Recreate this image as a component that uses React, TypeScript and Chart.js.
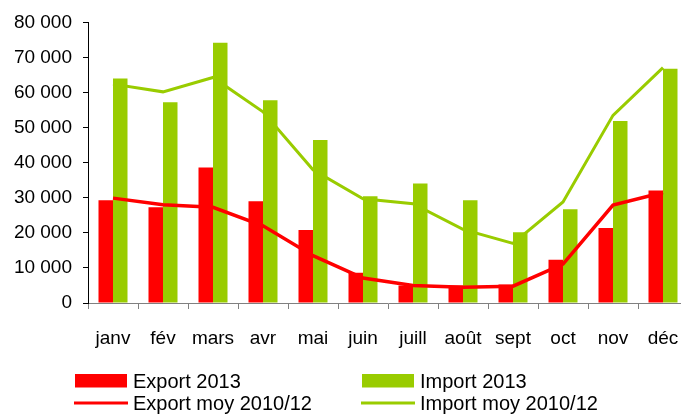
import React, { useEffect, useRef } from "react";
import { Chart, registerables } from "chart.js";

Chart.register(...registerables);

const categories = ["janv", "fév", "mars", "avr", "mai", "juin", "juill", "août", "sept", "oct", "nov", "déc"];
const export2013 = [29300, 27300, 38600, 29000, 20800, 8600, 5000, 5000, 5300, 12300, 21400, 32100];
const import2013 = [64000, 57200, 74200, 57800, 46500, 30400, 34100, 29300, 20200, 26700, 51900, 66800];
const exportMoy = [29900, 28000, 27300, 22000, 13500, 7100, 5000, 4500, 4800, 11100, 27900, 31500];
const importMoy = [62400, 60200, 64300, 54500, 38000, 29700, 28300, 21000, 17000, 28800, 53500, 67100];
const yTicks = [0, 10000, 20000, 30000, 40000, 50000, 60000, 70000, 80000];

const RED = "#ff0000";
const GREEN = "#99cc00";
const FONT = "'Liberation Sans', Arial, sans-serif";

const legendItems = [
  { label: "Export 2013", color: RED, kind: "box", col: 0, row: 0 },
  { label: "Import 2013", color: GREEN, kind: "box", col: 1, row: 0 },
  { label: "Export moy 2010/12", color: RED, kind: "line", col: 0, row: 1 },
  { label: "Import moy 2010/12", color: GREEN, kind: "line", col: 1, row: 1 },
];

const fmt = (v: number) => String(v).replace(/\B(?=(\d{3})+(?!\d))/g, " ");

const legendPlugin = {
  id: "customLegend",
  afterDraw(chart: any) {
    const ctx = chart.ctx as CanvasRenderingContext2D;
    const colX = [74, 361];
    const rowY = [380.5, 403];
    ctx.save();
    ctx.font = `20px ${FONT}`;
    ctx.textBaseline = "alphabetic";
    ctx.fillStyle = "#000";
    legendItems.forEach((it) => {
      const x = colX[it.col];
      const y = rowY[it.row];
      if (it.kind === "box") {
        ctx.fillStyle = it.color;
        ctx.fillRect(x + 1, y - 6.5, 52, 13.5);
      } else {
        ctx.strokeStyle = it.color;
        ctx.lineWidth = 3;
        ctx.beginPath();
        ctx.moveTo(x, y);
        ctx.lineTo(x + 54, y);
        ctx.stroke();
      }
      ctx.fillStyle = "#000";
      ctx.fillText(it.label, x + 59, y + 7);
    });
    ctx.restore();
  },
};

export default function App() {
  const ref = useRef<HTMLCanvasElement | null>(null);
  useEffect(() => {
    if (!ref.current) return;
    const chart = new Chart(ref.current, {
      type: "bar",
      data: {
        labels: categories,
        datasets: [
          { type: "line", label: "Export moy 2010/12", data: exportMoy, borderColor: RED, borderWidth: 3.5, pointRadius: 0, tension: 0, order: 0 },
          { type: "line", label: "Import moy 2010/12", data: importMoy, borderColor: GREEN, borderWidth: 3, pointRadius: 0, tension: 0, order: 0 },
          { type: "bar", label: "Export 2013", data: export2013, backgroundColor: RED, order: 1, categoryPercentage: 0.58, barPercentage: 1 },
          { type: "bar", label: "Import 2013", data: import2013, backgroundColor: GREEN, order: 1, categoryPercentage: 0.58, barPercentage: 1 },
        ] as any,
      },
      options: {
        responsive: false,
        animation: false,
        devicePixelRatio: 1,
        layout: { padding: { left: 0, right: 12, top: 19, bottom: 62 } },
        plugins: { legend: { display: false }, tooltip: { enabled: false } },
        scales: {
          x: {
            offset: true,
            grid: { display: true, drawOnChartArea: false, drawTicks: true, tickLength: 6, color: "#808080", offset: true },
            border: { display: true, color: "#808080", width: 1 },
            ticks: { color: "#000", font: { family: FONT, size: 19 }, padding: 18, maxRotation: 0, autoSkip: false },
            afterFit: (s: any) => { s.height = 50; },
          },
          y: {
            min: 0,
            max: 80000,
            afterBuildTicks: (s: any) => { s.ticks = yTicks.map((v) => ({ value: v })); },
            grid: { display: true, drawOnChartArea: false, drawTicks: true, tickLength: 5, color: "#000" },
            border: { display: true, color: "#000", width: 1 },
            ticks: { color: "#000", font: { family: FONT, size: 19 }, padding: 11, callback: (v: any) => fmt(Number(v)) },
            afterFit: (s: any) => { s.width = 88; },
          },
        },
      } as any,
      plugins: [legendPlugin],
    });
    return () => chart.destroy();
  }, []);
  return (
    <div style={{ position: "fixed", left: 0, top: 0, width: 681, height: 415, overflow: "hidden", background: "#fff" }}>
      <canvas ref={ref} width={700} height={415} style={{ display: "block" }} />
    </div>
  );
}
